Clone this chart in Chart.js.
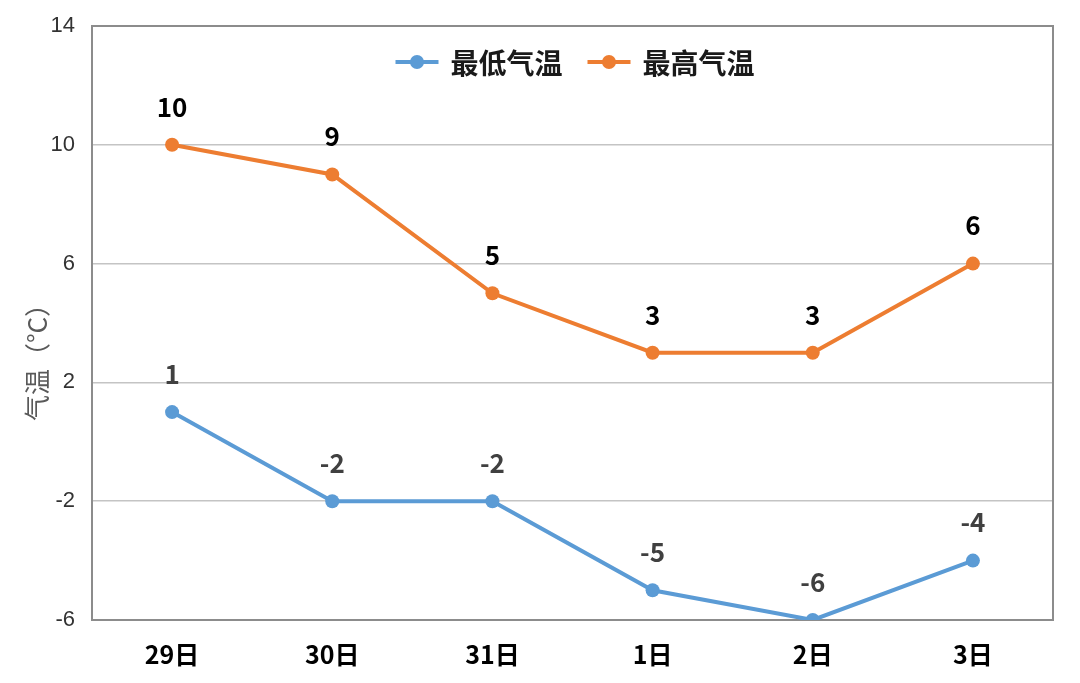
<!DOCTYPE html>
<html><head><meta charset="utf-8">
<script src="https://cdn.jsdelivr.net/npm/chart.js@4.4.0/dist/chart.umd.min.js"></script>
<style>html,body{margin:0;padding:0;background:#fff}#wrap{width:1080px;height:683px}</style>
</head><body><div id="wrap"><canvas id="c" width="1080" height="683"></canvas></div>
<script>
const categories = ['29日','30日','31日','1日','2日','3日'];
const lowTemps = [1,-2,-2,-5,-6,-4];
const highTemps = [10,9,5,3,3,6];
const seriesNames = ['最低气温','最高气温'];
const yTitle = '气温（°C）';

const BLUE = '#5B9BD5', ORANGE = '#ED7D31';
const CJK = '"Noto Sans CJK SC", "Noto Sans", sans-serif';

const extras = {
  id:'extras',
  beforeDatasetsDraw(chart){
    const {ctx, chartArea:a} = chart;
    ctx.save();
    ctx.strokeStyle = '#8c8c8c'; ctx.lineWidth = 2;
    ctx.strokeRect(a.left, a.top, a.right-a.left, a.bottom-a.top);
    ctx.restore();
  },
  afterDatasetsDraw(chart){
    const {ctx, chartArea:a} = chart;
    ctx.save();
    ctx.font = 'bold 26px ' + CJK;
    ctx.textAlign = 'center'; ctx.textBaseline = 'middle';
    chart.data.datasets.forEach((ds,i)=>{
      const meta = chart.getDatasetMeta(i);
      ctx.fillStyle = i === 0 ? '#404040' : '#000000';
      meta.data.forEach((pt,j)=>{
        ctx.fillText(String(ds.data[j]), pt.x, pt.y - 38);
      });
    });
    // legend
    ctx.font = 'bold 28px ' + CJK;
    ctx.textAlign = 'left';
    const markW = 43, gapText = 12, gapItem = 25;
    const widths = chart.data.datasets.map(ds => ctx.measureText(ds.label).width);
    let total = 0;
    widths.forEach((w,i)=>{ total += markW + gapText + w + (i < widths.length-1 ? gapItem : 0); });
    let x = 575 - total/2;
    const y = 62;
    chart.data.datasets.forEach((ds,i)=>{
      ctx.strokeStyle = ds.borderColor; ctx.lineWidth = 4;
      ctx.beginPath(); ctx.moveTo(x, y); ctx.lineTo(x+markW, y); ctx.stroke();
      ctx.fillStyle = ds.borderColor;
      ctx.beginPath(); ctx.arc(x+markW/2, y, 7, 0, Math.PI*2); ctx.fill();
      ctx.fillStyle = '#1a1a1a';
      ctx.fillText(ds.label, x + markW + gapText, y + 1);
      x += markW + gapText + widths[i] + gapItem;
    });
    // y title
    ctx.textAlign = 'center';
    ctx.translate(37, 356);
    ctx.rotate(-Math.PI/2);
    ctx.font = '26px ' + CJK;
    ctx.fillStyle = '#595959';
    ctx.fillText(yTitle, 0, 0);
    ctx.restore();
  }
};

new Chart(document.getElementById('c'), {
  type:'line',
  data:{
    labels: categories,
    datasets:[
      {label: seriesNames[0], data: lowTemps, borderColor: BLUE, backgroundColor: BLUE,
       borderWidth: 4, pointRadius: 7, pointHoverRadius: 7, pointBackgroundColor: BLUE,
       pointBorderWidth: 0, tension: 0, pointStyle: 'circle'},
      {label: seriesNames[1], data: highTemps, borderColor: ORANGE, backgroundColor: ORANGE,
       borderWidth: 4, pointRadius: 7, pointHoverRadius: 7, pointBackgroundColor: ORANGE,
       pointBorderWidth: 0, tension: 0, pointStyle: 'circle'}
    ]
  },
  options:{
    responsive:false, animation:false, devicePixelRatio:1,
    layout:{padding:{top:26, right:27, left:0, bottom:0}},
    plugins:{
      tooltip:{enabled:false},
      legend:{display:false}
    },
    scales:{
      x:{
        offset:true,
        grid:{display:false, drawTicks:false},
        border:{display:false},
        ticks:{color:'#000', font:{family:CJK, size:25, weight:'bold'}, padding:19},
        afterFit(s){ s.height = 63; s.paddingLeft = 0; s.paddingRight = 0; }
      },
      y:{
        min:-6, max:14,
        ticks:{stepSize:4, color:'#333', font:{family:'"Liberation Sans", Arial, sans-serif', size:22}, padding:17},
        grid:{color:'#c4c4c4', lineWidth:1.5, drawTicks:false},
        border:{display:false},
        afterFit(s){ s.width = 92; s.paddingTop = 0; s.paddingBottom = 0; }
      }
    }
  },
  plugins:[extras]
});
</script>
</body></html>
